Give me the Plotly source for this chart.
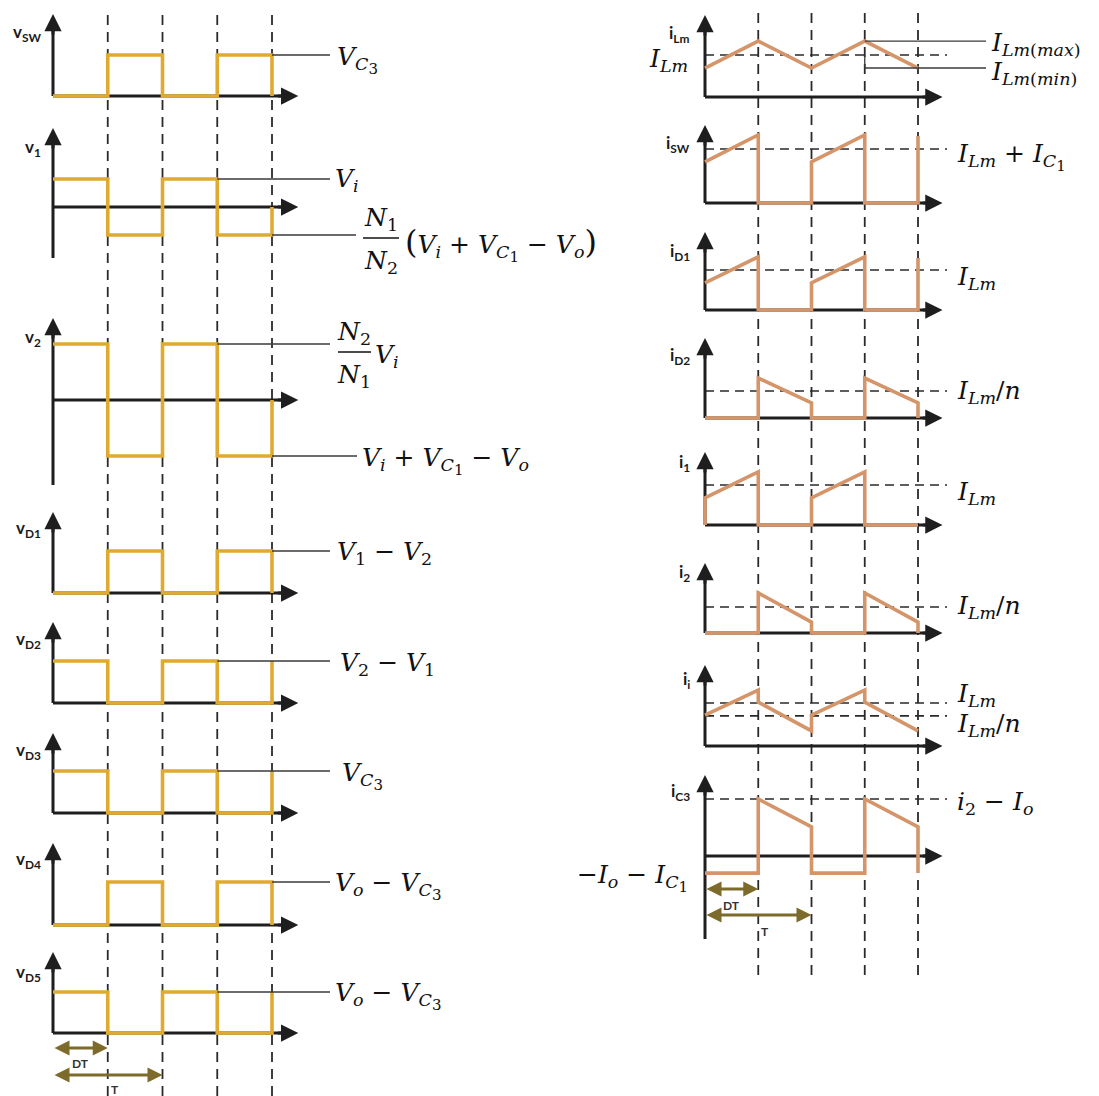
import plotly.graph_objects as go

W, H = 1099, 1096

# Time in units of the switching period T (duty ratio D = 0.5)
t_sq = [0, 0.5, 0.5, 1.0, 1.0, 1.5, 1.5, 2.0, 2.0]
t_tri = [0, 0.5, 1.0, 1.5, 2.0]
t_i1 = [0, 0, 0.5, 0.5, 1.0, 1.0, 1.5, 1.5, 2.0]
t_ii = [0, 0.5, 0.5, 1.0, 1.0, 1.5, 1.5, 2.0]
switch_times = [0.5, 1.0, 1.5, 2.0]
dt_span = 0.5
t_span = 1.0

# Voltage waveforms (normalised levels)
v_sw = [0, 0, 1, 1, 0, 0, 1, 1, 0]
v_1 = [1, 1, -1, -1, 1, 1, -1, -1, 0]
v_2 = [1, 1, -1, -1, 1, 1, -1, -1, 0]
v_d1 = [0, 0, 1, 1, 0, 0, 1, 1, 0]
v_d2 = [1, 1, 0, 0, 1, 1, 0, 0, 1]
v_d3 = [1, 1, 0, 0, 1, 1, 0, 0, 1]
v_d4 = [0, 0, 1, 1, 0, 0, 1, 1, 0]
v_d5 = [1, 1, 0, 0, 1, 1, 0, 0, 1]

# Current waveforms (normalised to the dashed reference level)
i_lm = [0.69, 1.33, 0.69, 1.33, 0.69]
i_sw = [0.76, 1.26, 0, 0, 0.76, 1.26, 0, 0, 1.24]
i_d1 = [0.68, 1.33, 0, 0, 0.68, 1.33, 0, 0, 1.30]
i_d2 = [0, 0, 1.48, 0.56, 0, 0, 1.48, 0.56, 0]
i_1 = [0, 0.68, 1.33, 0, 0, 0.68, 1.33, 0, 0]
i_2 = [0, 0, 1.54, 0.42, 0, 0, 1.54, 0.42, 0]
i_i = [0.72, 1.30, 1.02, 0.35, 0.72, 1.30, 1.02, 0.35]
i_c3 = [-0.30, -0.30, 1.0, 0.51, -0.30, -0.30, 1.0, 0.51, -0.30]

# Dashed reference levels of the current plots
ref_lm = [1.0]
ref_sw = [1.0]
ref_d1 = [1.0]
ref_d2 = [1.0]
ref_1 = [1.0]
ref_2 = [1.0]
ref_ii = [1.0, 0.70]
ref_c3 = [1.0]

# ---------------------------------------------------------------- layout
COLS = {
    "L": dict(x0=53, tpx=109.5, dom=(0.0, 0.5), tend=2.24,
              color="#E0AA30", dash=(12, 1096)),
    "R": dict(x0=705, tpx=106.5, dom=(0.5, 1.0), tend=2.23,
              color="#D4956A", dash=(10, 975)),
}

# top / base / unit / bottom are in pixels (unit = pixels per level 1)
panels = [
    dict(col="L", label="v<sub>SW</sub>", t=t_sq, y=v_sw, top=14, base=96, unit=41, bottom=96, ly=33),
    dict(col="L", label="v<sub>1</sub>", t=t_sq, y=v_1, top=128, base=207, unit=28, bottom=258, ly=148),
    dict(col="L", label="v<sub>2</sub>", t=t_sq, y=v_2, top=318, base=400, unit=56, bottom=485, ly=338),
    dict(col="L", label="v<sub>D1</sub>", t=t_sq, y=v_d1, top=512, base=593, unit=42, bottom=593, ly=529),
    dict(col="L", label="v<sub>D2</sub>", t=t_sq, y=v_d2, top=622, base=703, unit=42, bottom=703, ly=640),
    dict(col="L", label="v<sub>D3</sub>", t=t_sq, y=v_d3, top=733, base=813, unit=42, bottom=813, ly=751),
    dict(col="L", label="v<sub>D4</sub>", t=t_sq, y=v_d4, top=843, base=925, unit=43, bottom=925, ly=860),
    dict(col="L", label="v<sub>D5</sub>", t=t_sq, y=v_d5, top=952, base=1033, unit=41, bottom=1033, ly=973),
    dict(col="R", label="i<sub>Lm</sub>", t=t_tri, y=i_lm, top=15, base=97, unit=42, bottom=97, ly=34, ref=ref_lm),
    dict(col="R", label="i<sub>SW</sub>", t=t_sq, y=i_sw, top=125, base=203, unit=54, bottom=203, ly=144, ref=ref_sw),
    dict(col="R", label="i<sub>D1</sub>", t=t_sq, y=i_d1, top=232, base=310, unit=40, bottom=310, ly=252, ref=ref_d1),
    dict(col="R", label="i<sub>D2</sub>", t=t_sq, y=i_d2, top=338, base=418, unit=27, bottom=418, ly=356, ref=ref_d2),
    dict(col="R", label="i<sub>1</sub>", t=t_i1, y=i_1, top=452, base=525, unit=40, bottom=525, ly=463, ref=ref_1),
    dict(col="R", label="i<sub>2</sub>", t=t_sq, y=i_2, top=563, base=633, unit=26, bottom=633, ly=573, ref=ref_2),
    dict(col="R", label="i<sub>i</sub>", t=t_ii, y=i_i, top=665, base=746, unit=43, bottom=746, ly=680, ref=ref_ii),
    dict(col="R", label="i<sub>C3</sub>", t=t_sq, y=i_c3, top=775, base=856, unit=57, bottom=939, ly=792, ref=ref_c3),
]

AXIS_C = "#1e1e1e"
DASH_C = "#2a2a2a"
LEAD_C = "#3a3a3a"
ARROW_C = "#7D6B2B"
MATH_FONT = dict(family="DejaVu Serif", size=25, color="#111111")
LABEL_FONT = dict(family="Lato", size=17, color="#1a1a1a")


def px_x(px):
    return px / W


def px_y(py):
    return 1 - py / H


def px_to_t(col, px):
    c = COLS[col]
    return (px - c["x0"]) / c["tpx"]


fig = go.Figure()
layout = {}
shapes_dash = []
shapes_ref = []
shapes_axes = []
shapes_lead = []
annotations = []

for k, p in enumerate(panels, start=1):
    c = COLS[p["col"]]
    xa = "x" if k == 1 else f"x{k}"
    ya = "y" if k == 1 else f"y{k}"
    p["xa"], p["ya"] = xa, ya

    def val(py, p=p):
        return (p["base"] - py) / p["unit"]

    lo_px, hi_px = c["dom"][0] * W, c["dom"][1] * W
    layout["xaxis" if k == 1 else f"xaxis{k}"] = dict(
        domain=list(c["dom"]), range=[px_to_t(p["col"], lo_px), px_to_t(p["col"], hi_px)],
        visible=False, anchor=ya, fixedrange=True)
    top_px, bot_px = p["top"] - 14, p["bottom"] + 14
    layout["yaxis" if k == 1 else f"yaxis{k}"] = dict(
        domain=[px_y(bot_px), px_y(top_px)], range=[val(bot_px), val(top_px)],
        visible=False, anchor=xa, fixedrange=True)

    # waveform
    fig.add_trace(go.Scatter(
        x=p["t"], y=p["y"], mode="lines", xaxis=xa, yaxis=ya,
        line=dict(color=c["color"], width=3.6), hoverinfo="skip", showlegend=False))

    # axes (lines + arrow heads)
    shapes_axes.append(dict(type="line", xref=xa, yref=ya, x0=0, x1=0,
                            y0=val(p["bottom"]), y1=val(p["top"] + 8),
                            line=dict(color=AXIS_C, width=3), layer="below"))
    shapes_axes.append(dict(type="line", xref=xa, yref=ya, x0=0, x1=c["tend"] - 0.08,
                            y0=0, y1=0, line=dict(color=AXIS_C, width=3), layer="below"))
    annotations.append(dict(x=0, y=val(p["top"]), ax=0, ay=val(p["top"] + 22),
                            xref=xa, yref=ya, axref=xa, ayref=ya, text="",
                            showarrow=True, arrowhead=2, arrowsize=1.15, arrowwidth=3,
                            arrowcolor=AXIS_C, standoff=0))
    annotations.append(dict(x=c["tend"], y=0, ax=c["tend"] - 0.2, ay=0,
                            xref=xa, yref=ya, axref=xa, ayref=ya, text="",
                            showarrow=True, arrowhead=2, arrowsize=1.15, arrowwidth=3,
                            arrowcolor=AXIS_C, standoff=0))

    # dashed reference levels
    for lv in p.get("ref", []):
        shapes_ref.append(dict(type="line", xref=xa, yref=ya, x0=0,
                               x1=px_to_t(p["col"], 947), y0=lv, y1=lv,
                               line=dict(color=DASH_C, width=1.6, dash="9px,6px"),
                               layer="below"))

    # axis label
    xr = 43 if p["col"] == "L" else 692
    annotations.append(dict(x=px_x(xr), y=px_y(p["ly"]), xref="paper", yref="paper",
                            xanchor="right", yanchor="middle", showarrow=False,
                            text=f"<b>{p['label']}</b>", font=LABEL_FONT))

# dashed switching instants spanning each column
for col, first in (("L", panels[0]), ("R", panels[8])):
    c = COLS[col]
    for ts in switch_times:
        shapes_dash.append(dict(type="line", xref=first["xa"], yref="paper",
                                x0=ts, x1=ts, y0=px_y(c["dash"][1]), y1=px_y(c["dash"][0]),
                                line=dict(color=DASH_C, width=1.8, dash="10px,7px"),
                                layer="below"))


# leader lines from a waveform level to its label
def leader(idx, t0, level, end_px):
    p = panels[idx]
    shapes_lead.append(dict(type="line", xref=p["xa"], yref=p["ya"], x0=t0,
                            x1=px_to_t(p["col"], end_px), y0=level, y1=level,
                            line=dict(color=LEAD_C, width=1.3)))


leader(0, 2.0, max(v_sw), 330)
leader(1, 1.5, max(v_1), 330)
leader(1, 2.0, min(v_1), 356)
leader(2, 1.5, max(v_2), 330)
leader(2, 2.0, min(v_2), 357)
leader(3, 2.0, max(v_d1), 330)
leader(4, 1.5, max(v_d2), 330)
leader(5, 1.5, max(v_d3), 330)
leader(6, 2.0, max(v_d4), 330)
leader(7, 1.5, max(v_d5), 330)
leader(8, 1.5, max(i_lm), 986)
leader(8, 1.5, min(i_lm), 986)
pl = panels[8]
shapes_lead.append(dict(type="line", xref=pl["xa"], yref=pl["ya"], x0=1.5, x1=1.5,
                        y0=ref_lm[0], y1=min(i_lm), line=dict(color=LEAD_C, width=1.3)))


def text(x, y, s, xanchor="left", size=None):
    f = dict(MATH_FONT)
    if size:
        f["size"] = size
    annotations.append(dict(x=px_x(x), y=px_y(y), xref="paper", yref="paper",
                            xanchor=xanchor, yanchor="middle", showarrow=False,
                            text=s, font=f))


def sub2(letter, digit):
    # two-level subscript such as C with index 3 under it
    return (f"<sub><i>{letter}</i><sub><span style=\"font-size:15px\">{digit}</span>"
            "</sub></sub>")


VC3 = "<i>V</i>" + sub2("C", "3")
VC1 = "<i>V</i>" + sub2("C", "1")
VI = "<i>V<sub>i</sub></i>"
VO = "<i>V<sub>o</sub></i>"
ILM = "<i>I<sub>Lm</sub></i>"
IO = "<i>I<sub>o</sub></i>"
IC1 = "<i>I</i>" + sub2("C", "1")
PAREN_L = '<span style="font-size:32px">(</span>'
PAREN_R = '<span style="font-size:32px">)</span>'

# left column labels
text(335, 60, VC3)
text(333, 180, VI)
text(381, 219, "<i>N</i><sub>1</sub>", xanchor="center")
text(381, 262, "<i>N</i><sub>2</sub>", xanchor="center")
shapes_lead.append(dict(type="line", xref="paper", yref="paper", x0=px_x(363), x1=px_x(399),
                        y0=px_y(238), y1=px_y(238), line=dict(color="#111111", width=1.6)))
text(403, 244, PAREN_L + VI + " + " + VC1 + " − " + VO + PAREN_R)
text(354, 333, "<i>N</i><sub>2</sub>", xanchor="center")
text(354, 376, "<i>N</i><sub>1</sub>", xanchor="center")
shapes_lead.append(dict(type="line", xref="paper", yref="paper", x0=px_x(338), x1=px_x(371),
                        y0=px_y(352), y1=px_y(352), line=dict(color="#111111", width=1.6)))
text(373, 356, VI)
text(360, 461, VI + " + " + VC1 + " − " + VO)
text(335, 553, "<i>V</i><sub>1</sub> − <i>V</i><sub>2</sub>")
text(338, 664, "<i>V</i><sub>2</sub> − <i>V</i><sub>1</sub>")
text(340, 776, VC3)
text(333, 886, VO + " − " + VC3)
text(333, 996, VO + " − " + VC3)

# right column labels
text(690, 60, ILM, xanchor="right")
text(989, 44, "<i>I</i><sub><i>Lm</i>(<i>max</i>)</sub>")
text(989, 73, "<i>I</i><sub><i>Lm</i>(<i>min</i>)</sub>")
text(955, 157, ILM + " + " + IC1)
text(955, 278, ILM)
text(955, 392, ILM + "/<i>n</i>")
text(955, 493, ILM)
text(955, 607, ILM + "/<i>n</i>")
text(955, 695, ILM)
text(955, 725, ILM + "/<i>n</i>")
text(955, 803, "<i>i</i><sub>2</sub> − " + IO)
text(690, 878, "−" + IO + " − " + IC1, xanchor="right")


# DT and T interval arrows
def span_arrow(idx, t1, y_px, lbl, lx, ly):
    p = panels[idx]
    annotations.append(dict(x=t1, y=px_y(y_px), ax=0, ay=0, xref=p["xa"], yref="paper",
                            axref=p["xa"], ayref="pixel", text="", showarrow=True,
                            arrowhead=2, startarrowhead=2, arrowside="end+start",
                            arrowsize=1.0, startarrowsize=1.0, arrowwidth=3,
                            arrowcolor=ARROW_C, standoff=0, startstandoff=0))
    annotations.append(dict(x=px_x(lx), y=px_y(ly), xref="paper", yref="paper",
                            xanchor="center", yanchor="middle", showarrow=False,
                            text=f"<b>{lbl}</b>",
                            font=dict(family="Lato", size=12, color="#333333")))


span_arrow(7, dt_span, 1048, "DT", 80, 1063)
span_arrow(7, t_span, 1075, "T", 115, 1089)
span_arrow(15, dt_span, 889, "DT", 731, 905)
span_arrow(15, t_span, 915, "T", 765, 931)

layout.update(
    width=W, height=H, margin=dict(l=0, r=0, t=0, b=0),
    paper_bgcolor="white", plot_bgcolor="rgba(0,0,0,0)",
    showlegend=False,
    shapes=shapes_dash + shapes_ref + shapes_axes + shapes_lead,
    annotations=annotations,
)
fig.update_layout(**layout)
fig.write_html("out.html")
